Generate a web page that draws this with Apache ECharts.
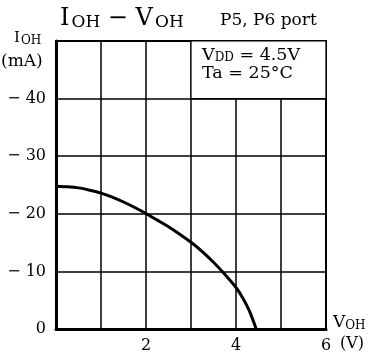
<!DOCTYPE html>
<html><head><meta charset="utf-8">
<script src="https://cdn.jsdelivr.net/npm/echarts@6/dist/echarts.min.js"></script>
<style>html,body{margin:0;padding:0;background:#fff}#c{width:377px;height:364px}</style>
</head><body><div id="c"></div>
<script>
const voltage = [0, 0.25, 0.5, 0.75, 1, 1.25, 1.5, 1.75, 2, 2.25, 2.5, 2.75, 3, 3.25, 3.5, 3.75, 4, 4.15, 4.3, 4.45];
const current = [-24.8, -24.7, -24.5, -24.1, -23.6, -22.9, -22.05, -21.1, -20.05, -18.9, -17.75, -16.45, -15.05, -13.45, -11.6, -9.5, -7.2, -5.4, -3.1, 0];
const xTickLabels = {2: '2', 4: '4', 6: '6'};
const yTickLabels = {'-40': '− 40', '-30': '− 30', '-20': '− 20', '-10': '− 10', '0': '0'};
const conditionBox = {vFrom: 3, vTo: 6, iFrom: -50, iTo: -40};

const FONT = 'DejaVu Serif';
const N = {fontFamily: FONT, color: '#000', fontWeight: 'normal'};
const chart = echarts.init(document.getElementById('c'), null, {renderer: 'canvas'});
chart.setOption({
  backgroundColor: '#fff',
  animation: false,
  textStyle: {fontFamily: FONT, color: '#000'},
  title: [
    {text: '{a|I}{b|OH}{a| − V}{b|OH}', left: 60, top: 6, padding: 0,
     textStyle: {rich: {
       a: Object.assign({fontSize: 24}, N),
       b: Object.assign({fontSize: 17, padding: [8, 0, 0, 2]}, N)}}},
    {text: 'P5, P6 port', left: 220, top: 12, padding: 0,
     textStyle: Object.assign({fontSize: 17}, N)},
    {text: '{a|I}{b|OH}', left: 14, top: 30, padding: 0,
     textStyle: {rich: {
       a: Object.assign({fontSize: 15}, N),
       b: Object.assign({fontSize: 12, padding: [5, 0, 0, 1]}, N)}}},
    {text: '(mA)', left: 1, top: 53, padding: 0,
     textStyle: Object.assign({fontSize: 17}, N)},
    {text: '{a|V}{b|OH}', left: 333, top: 313, padding: 0,
     textStyle: {rich: {
       a: Object.assign({fontSize: 17}, N),
       b: Object.assign({fontSize: 12, padding: [7, 0, 0, 0]}, N)}}},
    {text: '(V)', left: 340, top: 336, padding: 0,
     textStyle: Object.assign({fontSize: 16}, N)},
    {text: '{a|V}{b|DD}{a| = 4.5V}\n{a|Ta = 25°C}', left: 202, top: 46, padding: 0,
     textStyle: {rich: {
       a: Object.assign({fontSize: 17.5, lineHeight: 18}, N),
       b: Object.assign({fontSize: 12, padding: [6, 0, 0, 0]}, N)}}}
  ],
  grid: {left: 56, right: 51, top: 41, bottom: 35, show: true, borderColor: '#000', borderWidth: 2},
  xAxis: {
    type: 'value', min: 0, max: 6, interval: 1,
    axisLine: {show: true, lineStyle: {color: '#000', width: 3}},
    axisTick: {show: false},
    splitLine: {show: true, lineStyle: {color: '#000', width: 1.5}},
    axisLabel: Object.assign({
      margin: 9, fontSize: 16, showMaxLabel: true,
      formatter: v => xTickLabels[v] || ''
    }, N)
  },
  yAxis: {
    type: 'value', min: -50, max: 0, interval: 10, inverse: true,
    axisLine: {show: true, lineStyle: {color: '#000', width: 3}},
    axisTick: {show: false},
    splitLine: {show: true, lineStyle: {color: '#000', width: 1.5}},
    axisLabel: Object.assign({
      margin: 10, fontSize: 16, padding: [2, 0, 0, 0],
      formatter: v => yTickLabels[String(v)] || ''
    }, N)
  },
  series: [{
    type: 'line', smooth: 0.2, symbol: 'none',
    data: voltage.map((v, i) => [v, current[i]]),
    lineStyle: {color: '#000', width: 3},
    markArea: {
      silent: true,
      itemStyle: {color: '#fff', borderColor: '#000', borderWidth: 1.2},
      label: {show: false},
      data: [[{coord: [conditionBox.vFrom, conditionBox.iFrom]}, {coord: [conditionBox.vTo, conditionBox.iTo]}]]
    }
  }]
});
</script></body></html>
